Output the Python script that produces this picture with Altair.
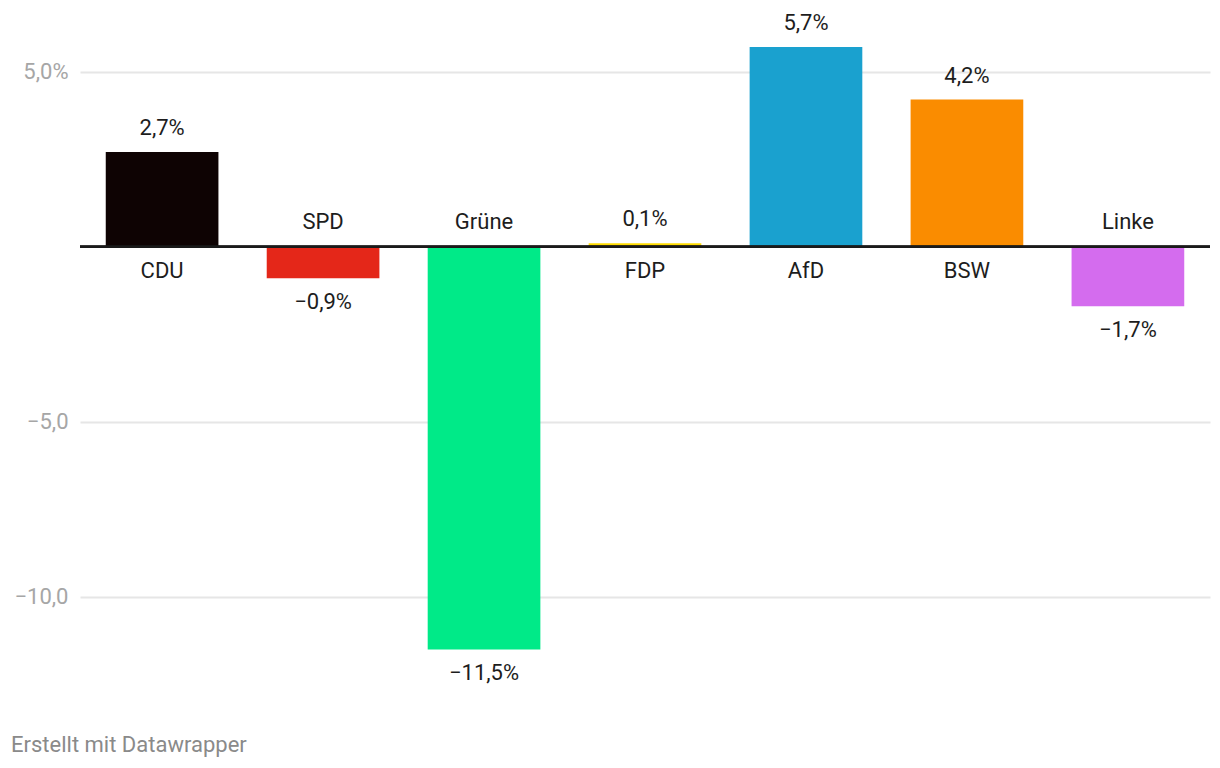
import altair as alt
import pandas as pd

parties = ["CDU", "SPD", "Grüne", "FDP", "AfD", "BSW", "Linke"]
values = [2.7, -0.9, -11.5, 0.1, 5.7, 4.2, -1.7]
colors = ["#0e0303", "#e42719", "#00ea88", "#ffdc00", "#1aa1cf", "#fa8c00", "#d46cee"]
y_ticks = [-10, -5, 5]


def fmt(v):
    return f"{v:.1f}".replace(".", ",").replace("-", "\u2212") + "%"


df = pd.DataFrame({
    "party": parties,
    "value": values,
    "color": colors,
    "label": [fmt(v) for v in values],
    "sign": ["pos" if v >= 0 else "neg" for v in values],
})

FONT = "Roboto"
FS = 22
x = alt.X("party:N", sort=parties, axis=None,
          scale=alt.Scale(paddingInner=0.3, paddingOuter=0.16))
yscale = alt.Scale(domain=[-13, 6.5], nice=False, zero=False)
y = alt.Y("value:Q", scale=yscale, title=None,
          axis=alt.Axis(values=y_ticks, domain=False, ticks=False, labelPadding=12,
                        labelFont=FONT, labelFontSize=FS, labelColor="#a6a6a6",
                        gridColor="#e6e6e6", gridWidth=2,
                        labelExpr="replace(replace(format(datum.value, '.1f'), '.', ','), '-', '\u2212') + (datum.value > 0 ? '%' : '')"))

base = alt.Chart(df)

bars = base.mark_bar().encode(
    x=x,
    y=y,
    y2=alt.datum(0),
    color=alt.Color("color:N", scale=None),
)

zero = alt.Chart(df).mark_rule(color="#1a1a1a", strokeWidth=2).encode(y=alt.datum(0))

pos = alt.datum.sign == "pos"
neg = alt.datum.sign == "neg"

val_pos = base.transform_filter(pos).mark_text(
    font=FONT, fontSize=FS, color="#1d1d1d", baseline="middle", dy=-24
).encode(x=x, y=alt.Y("value:Q", scale=yscale), text="label:N")

val_neg = base.transform_filter(neg).mark_text(
    font=FONT, fontSize=FS, color="#1d1d1d", baseline="middle", dy=24
).encode(x=x, y=alt.Y("value:Q", scale=yscale), text="label:N")

name_pos = base.transform_filter(pos).mark_text(
    font=FONT, fontSize=FS, color="#1d1d1d", baseline="middle", dy=24
).encode(x=x, y=alt.datum(0, scale=yscale), text="party:N")

name_neg = base.transform_filter(neg).mark_text(
    font=FONT, fontSize=FS, color="#1d1d1d", baseline="middle", dy=-25
).encode(x=x, y=alt.datum(0, scale=yscale), text="party:N")

footer = alt.Chart(pd.DataFrame({"t": ["Erstellt mit Datawrapper"]})).mark_text(
    font=FONT, fontSize=FS, color="#8a8a8a", align="left", baseline="middle"
).encode(x=alt.value(-69), y=alt.value(726), text="t:N")

chart = alt.layer(bars, zero, val_pos, val_neg, name_pos, name_neg, footer).properties(
    width=1130,
    height=683,
    autosize=alt.AutoSizeParams(type="none"),
    padding={"left": 72, "top": 11, "right": 2, "bottom": 60},
).configure_view(stroke=None)

chart.save("out.html", embed_options={"renderer": "svg", "actions": False})
